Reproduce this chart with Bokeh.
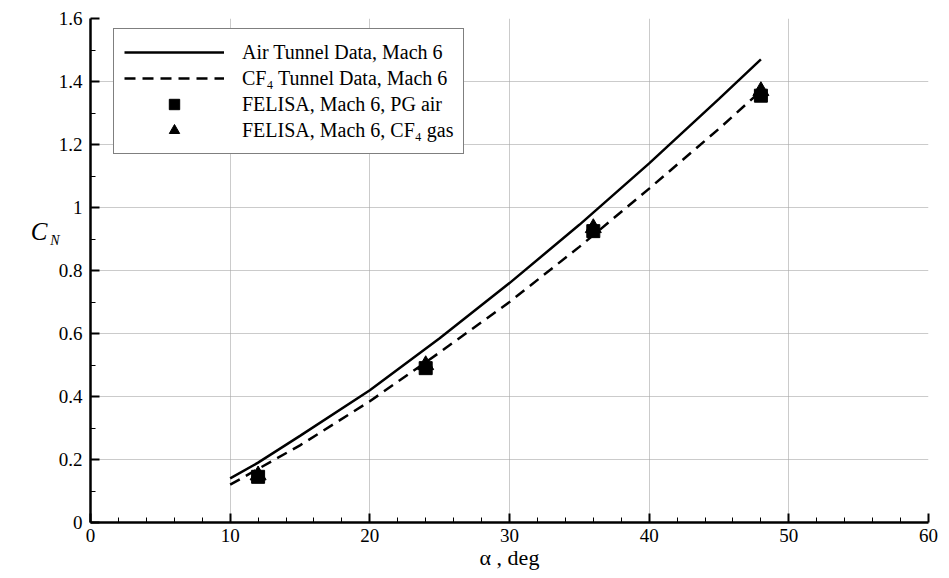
from bokeh.plotting import figure
from bokeh.models import (Range1d, FixedTicker, Legend, LegendItem, LinearAxis)
from bokeh.embed import file_html
from bokeh.resources import INLINE

# ---- data ----
air_alpha = [10, 12, 15, 20, 25, 30, 35, 40, 45, 48]
air_cn = [0.14, 0.19, 0.275, 0.42, 0.585, 0.76, 0.945, 1.14, 1.345, 1.47]

cf4_alpha = [10, 15, 20, 25, 30, 35, 40, 45, 48]
cf4_cn = [0.12, 0.245, 0.385, 0.54, 0.70, 0.875, 1.06, 1.25, 1.37]

felisa_alpha = [12, 24, 36, 48]
felisa_pg_cn = [0.145, 0.49, 0.925, 1.355]
felisa_cf4_cn = [0.15, 0.50, 0.935, 1.37]

x_ticks = [0, 10, 20, 30, 40, 50, 60]
x_tick_labels = ["0", "10", "20", "30", "40", "50", "60"]
x_minor = [2, 4, 6, 8, 12, 14, 16, 18, 22, 24, 26, 28, 32, 34, 36, 38,
           42, 44, 46, 48, 52, 54, 56, 58]
y_ticks = [0, 0.2, 0.4, 0.6, 0.8, 1.0, 1.2, 1.4, 1.6]
y_tick_labels = ["0", "0.2", "0.4", "0.6", "0.8", "1", "1.2", "1.4", "1.6"]
y_minor = [0.1, 0.3, 0.5, 0.7, 0.9, 1.1, 1.3, 1.5]

y_title_main = "C"
y_title_sub = "N"
y_title_pos = 0.925
y_sub_pos = 0.895

legend_labels = ["Air Tunnel Data, Mach 6", "CF\u2084 Tunnel Data, Mach 6",
                 "FELISA, Mach 6, PG air", "FELISA, Mach 6, CF\u2084 gas"]

FONT = "Liberation Serif"

p = figure(width=949, height=578, output_backend="svg", toolbar_location=None,
           x_range=Range1d(0, 60), y_range=Range1d(0, 1.6),
           min_border_left=90, min_border_right=21, min_border_top=18,
           min_border_bottom=56)
p.outline_line_color = None
p.background_fill_color = "white"

# grid
p.xgrid.ticker = FixedTicker(ticks=x_ticks)
p.ygrid.ticker = FixedTicker(ticks=y_ticks)
for g in (p.xgrid, p.ygrid):
    g.grid_line_color = "#a8a8a8"
    g.grid_line_width = 1
    g.grid_line_alpha = 0.6

# axes
p.xaxis.ticker = FixedTicker(ticks=x_ticks, minor_ticks=x_minor)
p.yaxis.ticker = FixedTicker(ticks=y_ticks, minor_ticks=y_minor)
p.xaxis.major_label_overrides = {t: l for t, l in zip(x_ticks, x_tick_labels)}
p.yaxis.major_label_overrides = {t: l for t, l in zip(y_ticks, y_tick_labels)}
for ax in (p.xaxis, p.yaxis):
    ax.axis_line_width = 2.5
    ax.axis_line_color = "black"
    ax.major_tick_in = 9
    ax.major_tick_out = 0
    ax.minor_tick_in = 5
    ax.minor_tick_out = 0
    ax.major_tick_line_width = 2
    ax.minor_tick_line_width = 1
    ax.major_tick_line_color = "black"
    ax.minor_tick_line_color = "black"
    ax.major_label_text_font = FONT
    ax.major_label_text_font_size = "19px"
    ax.major_label_text_color = "black"
    ax.axis_label_text_font = FONT
    ax.axis_label_text_font_style = "normal"
    ax.axis_label_text_color = "black"
p.xaxis.major_label_standoff = 6
p.yaxis.major_label_standoff = 8
p.xaxis.axis_label = "\u03b1 , deg"
p.xaxis.axis_label_text_font_size = "22px"
p.xaxis.axis_label_standoff = 0


def title_axis(tick, text, size, standoff):
    ax = LinearAxis(ticker=FixedTicker(ticks=[tick]),
                    major_label_overrides={tick: text})
    ax.axis_line_color = None
    ax.major_tick_line_color = None
    ax.minor_tick_line_color = None
    ax.major_tick_in = 0
    ax.major_tick_out = 0
    ax.major_label_standoff = standoff
    ax.major_label_text_font = FONT
    ax.major_label_text_font_style = "italic"
    ax.major_label_text_font_size = size
    ax.major_label_text_color = "black"
    return ax


# C_N title: subscript axis nearest the main axis, then the "C"
p.add_layout(title_axis(y_sub_pos, y_title_sub, "14px", -4), "left")
p.add_layout(title_axis(y_title_pos, y_title_main, "25px", 0), "left")

# data
r_air = p.line(air_alpha, air_cn, line_color="black", line_width=2.5)
r_cf4 = p.line(cf4_alpha, cf4_cn, line_color="black", line_width=2.5, line_dash="11 7")
r_tri = p.scatter(felisa_alpha, felisa_cf4_cn, marker="triangle", size=16,
                  fill_color="black", line_color="black")
r_sq = p.scatter(felisa_alpha, felisa_pg_cn, marker="square", size=13,
                 fill_color="black", line_color="black")

legend = Legend(items=[LegendItem(label=legend_labels[0], renderers=[r_air]),
                       LegendItem(label=legend_labels[1], renderers=[r_cf4]),
                       LegendItem(label=legend_labels[2], renderers=[r_sq]),
                       LegendItem(label=legend_labels[3], renderers=[r_tri])],
                location=(23, 368))
legend.label_text_font = FONT
legend.label_text_font_size = "20px"
legend.label_text_color = "black"
legend.glyph_width = 100
legend.glyph_height = 26
legend.label_height = 26
legend.label_standoff = 18
legend.padding = 10
legend.spacing = 0
legend.margin = 0
legend.border_line_color = "black"
legend.border_line_width = 1.5
legend.background_fill_color = "white"
legend.background_fill_alpha = 1
p.add_layout(legend)

open("out.html", "w").write(file_html(p, INLINE))
